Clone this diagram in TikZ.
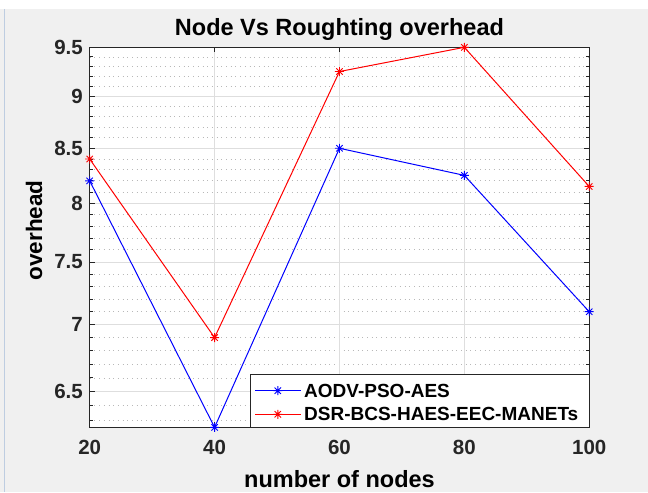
\documentclass[tikz,border=0pt]{standalone}
\usepackage{fontspec}
\setmainfont{Liberation Sans}
\usetikzlibrary{positioning}
\definecolor{matlab-gray}{RGB}{240,240,240}
\definecolor{axis-dark}{RGB}{38,38,38}
\definecolor{frame-blue}{RGB}{190,205,225}
\tikzset{
    grid-major/.style = {draw=black!13, line width=0.9pt},
    grid-minor/.style = {draw=black!28, line width=0.8pt, dash pattern=on 0.8pt off 3.9pt},
    axis-frame/.style = {draw=axis-dark, fill=white, line width=1pt, rectangle, inner sep=0pt, outer sep=0pt},
    tick-mark/.style = {draw=axis-dark, line width=0.9pt},
    tick-label/.style = {text=axis-dark, inner sep=0pt, font=\fontsize{20.5}{24}\selectfont\bfseries},
    axis-title/.style = {text=black, inner sep=0pt, font=\fontsize{23.5}{28}\selectfont\bfseries},
    legend-box/.style = {draw=axis-dark, fill=white, line width=1pt, rectangle, inner sep=0pt, outer sep=0pt},
    legend-text/.style = {text=black, inner sep=0pt, font=\fontsize{19}{23}\selectfont\bfseries},
    aodv-line/.style = {draw=blue, line width=1pt},
    dsr-line/.style = {draw=red, line width=1pt},
    asterisk/.pic = {\draw[line width=0.9pt] (-4.5,0) -- (4.5,0) (0,-4.5) -- (0,4.5) (-3.2,-3.2) -- (3.2,3.2) (-3.2,3.2) -- (3.2,-3.2);},
}

\begin{document}
\begin{tikzpicture}[x=1pt, y=1pt,
    declare function={xx(\v)=89.7+(\v-20)*6.2438; yy(\v)=64.7+907.5*(ln(\v)-1.832581);}]
% figure window
\fill[matlab-gray] (0,0) rectangle (648,483);
\fill[white] (0,483) rectangle (648,492);
\draw[frame-blue, line width=1pt] (4.5,0) -- (4.5,483);
\useasboundingbox (0,0) rectangle (648,492);

% axes and grid
\node[axis-frame, minimum width=499.5pt, minimum height=380pt, anchor=south west] (frame) at (89.7,64.7) {};
\foreach \v in {6.3,6.4,6.6,6.7,6.8,6.9,7.1,7.2,7.3,7.4,7.6,7.7,7.8,7.9,8.1,8.2,8.3,8.4,8.6,8.7,8.8,8.9,9.1,9.2,9.3,9.4}
    \draw[grid-minor] ({xx(20)},{yy(\v)}) -- ({xx(100)},{yy(\v)});
\foreach \v in {6.5,7,7.5,8,8.5,9}
    \draw[grid-major] ({xx(20)},{yy(\v)}) -- ({xx(100)},{yy(\v)});
\foreach \v in {40,60,80}
    \draw[grid-major] ({xx(\v)},{yy(6.25)}) -- ({xx(\v)},{yy(9.5)});
\draw[axis-dark, line width=1pt] (frame.south west) rectangle (frame.north east);

% ticks
\foreach \v in {6.5,7,7.5,8,8.5,9}
    \draw[tick-mark] ({xx(20)},{yy(\v)}) -- ++(5,0) ({xx(100)},{yy(\v)}) -- ++(-5,0);
\foreach \v in {6.3,6.4,6.6,6.7,6.8,6.9,7.1,7.2,7.3,7.4,7.6,7.7,7.8,7.9,8.1,8.2,8.3,8.4,8.6,8.7,8.8,8.9,9.1,9.2,9.3,9.4}
    \draw[tick-mark] ({xx(20)},{yy(\v)}) -- ++(3,0) ({xx(100)},{yy(\v)}) -- ++(-3,0);
\foreach \v in {40,60,80}
    \draw[tick-mark] ({xx(\v)},{yy(6.25)}) -- ++(0,5) ({xx(\v)},{yy(9.5)}) -- ++(0,-5);

% tick labels
\foreach \v [count=\i] in {6.5,7,7.5,8,8.5,9,9.5}
    \node[tick-label, anchor=east] (ylab-\i) at (83,{yy(\v)}) {\v};
\foreach \v in {20,40,60,80,100}
    \node[tick-label, anchor=north] (xlab-\v) at ({xx(\v)},52) {\v};

% data
\coordinate (aodv-20) at ({xx(20)},{yy(8.2)});
\coordinate (aodv-40) at ({xx(40)},{yy(6.25)});
\coordinate (aodv-60) at ({xx(60)},{yy(8.5)});
\coordinate (aodv-80) at ({xx(80)},{yy(8.25)});
\coordinate (aodv-100) at ({xx(100)},{yy(7.1)});
\coordinate (dsr-20) at ({xx(20)},{yy(8.4)});
\coordinate (dsr-40) at ({xx(40)},{yy(6.9)});
\coordinate (dsr-60) at ({xx(60)},{yy(9.25)});
\coordinate (dsr-80) at ({xx(80)},{yy(9.5)});
\coordinate (dsr-100) at ({xx(100)},{yy(8.15)});
\draw[aodv-line] (aodv-20) -- (aodv-40) -- (aodv-60) -- (aodv-80) -- (aodv-100);
\draw[dsr-line] (dsr-20) -- (dsr-40) -- (dsr-60) -- (dsr-80) -- (dsr-100);
\foreach \n in {20,40,60,80,100} {
    \pic[blue] at (aodv-\n) {asterisk};
    \pic[red] at (dsr-\n) {asterisk};
}

% legend
\node[legend-box, minimum width=339.2pt, minimum height=52.3pt, anchor=south east] (legend) at (frame.south east) {};
\coordinate (leg-aodv-a) at (255,101.3);
\coordinate (leg-aodv-b) at (300.7,101.3);
\coordinate (leg-aodv-m) at (277.8,101.3);
\coordinate (leg-dsr-a) at (255,77.7);
\coordinate (leg-dsr-b) at (300.7,77.7);
\coordinate (leg-dsr-m) at (277.8,77.7);
\draw[aodv-line] (leg-aodv-a) -- (leg-aodv-b);
\draw[dsr-line] (leg-dsr-a) -- (leg-dsr-b);
\pic[blue] at (leg-aodv-m) {asterisk};
\pic[red] at (leg-dsr-m) {asterisk};
\node[legend-text, anchor=west] (leg-aodv) at (304,101.3) {AODV-PSO-AES};
\node[legend-text, anchor=west] (leg-dsr) at (304,77.7) {DSR-BCS-HAES-EEC-MANETs};

% labels
\node[axis-title, anchor=base] (title) at ({xx(60)},456) {Node Vs Roughting overhead};
\node[axis-title, anchor=base] (xlabel) at ({xx(60)},4.5) {number of nodes};
\node[axis-title, rotate=90, font=\fontsize{22.5}{27}\selectfont\bfseries] (ylabel) at (34,261.5) {overhead};
\end{tikzpicture}
\end{document}
